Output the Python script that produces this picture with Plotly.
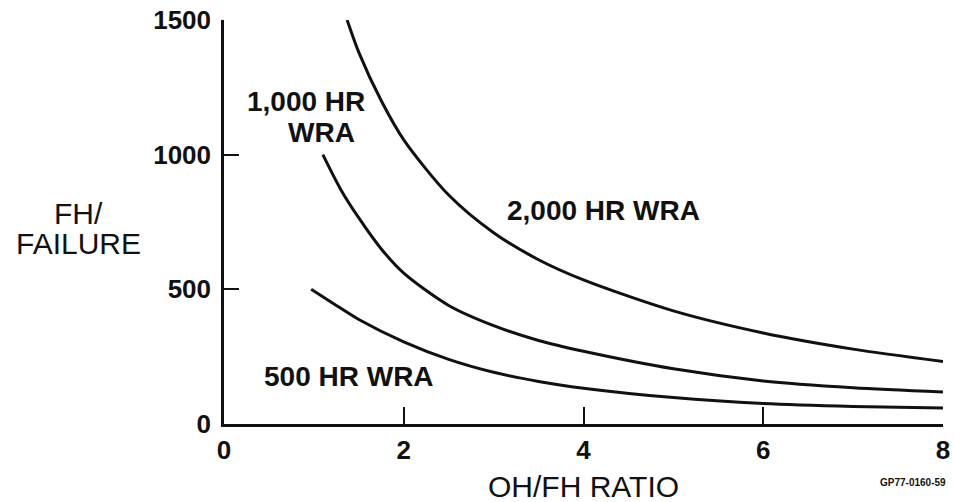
import plotly.graph_objects as go

# OH/FH ratio vs FH per failure for three WRA (hours) curves
x_2000 = [1.37, 1.5, 1.75, 2.0, 2.5, 3.0, 3.5, 4.0, 5.0, 6.0, 7.0, 8.0]
y_2000 = [1500, 1380, 1200, 1055, 850, 710, 610, 535, 420, 338, 278, 232]

x_1000 = [1.1, 1.3, 1.5, 1.75, 2.0, 2.5, 3.0, 3.5, 4.0, 5.0, 6.0, 7.0, 8.0]
y_1000 = [1000, 870, 765, 650, 560, 440, 365, 310, 270, 205, 160, 135, 119]

x_500 = [0.97, 1.25, 1.5, 2.0, 2.5, 3.0, 3.5, 4.0, 5.0, 6.0, 7.0, 8.0]
y_500 = [500, 440, 388, 305, 240, 192, 158, 133, 98, 76, 65, 59]

x_ticks = [0, 2, 4, 6, 8]
y_ticks = [0, 500, 1000, 1500]

FONT = "Liberation Sans, Arial, sans-serif"
INK = "#111111"

W, H = 954, 502
L, R, T, B = 224, 11, 20, 78
pw, ph = W - L - R, H - T - B

fig = go.Figure()
for xs, ys in [(x_2000, y_2000), (x_1000, y_1000), (x_500, y_500)]:
    fig.add_trace(go.Scatter(x=xs, y=ys, mode="lines",
                             line=dict(color=INK, width=3, shape="spline", smoothing=0.8),
                             showlegend=False, hoverinfo="skip"))

fig.update_layout(
    width=W, height=H,
    margin=dict(l=L, r=R, t=T, b=B, autoexpand=False),
    paper_bgcolor="white", plot_bgcolor="white",
    font=dict(family=FONT, color=INK),
    xaxis=dict(range=[0, 8], tickvals=x_ticks, ticktext=[str(v) for v in x_ticks],
               automargin=False,
               showgrid=False, zeroline=False, showline=True, linecolor=INK, linewidth=2.5,
               ticks="inside", ticklen=17, tickwidth=2, tickcolor=INK,
               tickfont=dict(size=26, family=FONT, color=INK, weight="bold"),
               ticklabelstandoff=1),
    yaxis=dict(range=[0, 1500], tickvals=y_ticks, ticktext=[str(v) for v in y_ticks],
               automargin=False,
               showgrid=False, zeroline=False, showline=True, linecolor=INK, linewidth=2.5,
               ticks="inside", ticklen=15, tickwidth=2, tickcolor=INK,
               tickfont=dict(size=26, family=FONT, color=INK, weight="bold"),
               ticklabelstandoff=5),
)

ann_font = dict(size=28, family=FONT, color=INK, weight="bold")
fig.add_annotation(x=4.22, y=791, xref="x", yref="y", text="2,000 HR WRA", showarrow=False, font=ann_font)
fig.add_annotation(x=0.91, y=1196, xref="x", yref="y", text="1,000 HR", showarrow=False, font=ann_font)
fig.add_annotation(x=1.08, y=1084, xref="x", yref="y", text="WRA", showarrow=False, font=ann_font)
fig.add_annotation(x=1.39, y=175, xref="x", yref="y", text="500 HR WRA", showarrow=False, font=ann_font)


def px(xp, yp):
    return (xp - L) / pw, (H - B - yp) / ph


title_font = dict(size=30, family=FONT, color=INK)
for txt, (xp, yp) in [("FH/", (78, 213)), ("FAILURE", (78, 243)), ("OH/FH RATIO", (583, 487))]:
    ax, ay = px(xp, yp)
    fig.add_annotation(x=ax, y=ay, xref="paper", yref="paper", text=txt, showarrow=False,
                       xanchor="center", yanchor="middle", font=title_font)

ax, ay = px(878, 490)
fig.add_annotation(x=ax, y=ay, xref="paper", yref="paper", xanchor="left", yanchor="bottom",
                   text="GP77-0160-59", showarrow=False,
                   font=dict(size=10, family=FONT, color=INK, weight="bold"))

fig.write_html("out.html",
               config={"displayModeBar": False},
               post_script="document.body.style.margin='0';document.body.style.overflow='hidden';")
